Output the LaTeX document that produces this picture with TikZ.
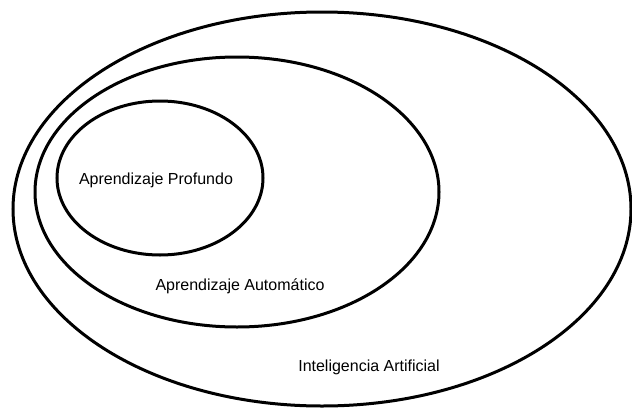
\documentclass[tikz,border=0pt]{standalone}
\usepackage{fontspec}
\setmainfont{Liberation Sans}
\usetikzlibrary{shapes.geometric}
\begin{document}
\begin{tikzpicture}[x=1pt,y=-1pt,
  set/.style={ellipse,draw=black,line width=3pt,inner sep=0pt},
  lbl/.style={font=\fontsize{16}{19}\selectfont,inner sep=0pt}]
\useasboundingbox (0,0) rectangle (632,410);
% nested sets
\node[set,minimum width=618,minimum height=394] (ia) at (322,209) {};
\node[set,minimum width=404,minimum height=270] (aa) at (237,192) {};
\node[set,minimum width=206,minimum height=154] (ap) at (160,178) {};
% set labels
\node[lbl] (tap) at (156,180) {Aprendizaje Profundo};
\node[lbl] (taa) at (240,286) {Aprendizaje Automático};
\node[lbl] (tia) at (369,367) {Inteligencia Artificial};
\end{tikzpicture}
\end{document}
